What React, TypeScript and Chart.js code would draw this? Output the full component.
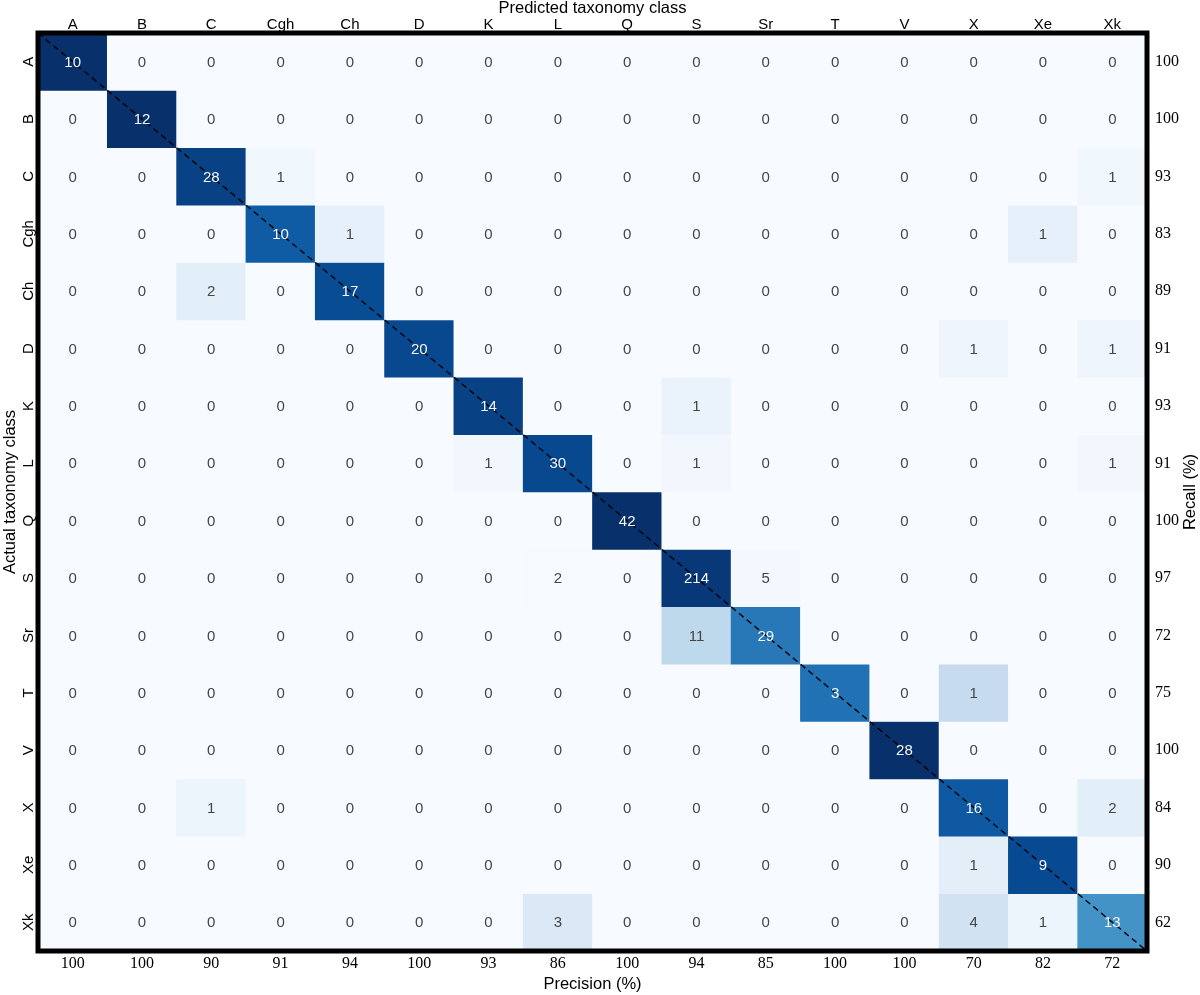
import React, { useEffect, useRef } from 'react';
import { Chart, registerables } from 'chart.js';

Chart.register(...registerables);

// Taxonomy classes (both predicted and actual)
const classes = ['A', 'B', 'C', 'Cgh', 'Ch', 'D', 'K', 'L', 'Q', 'S', 'Sr', 'T', 'V', 'X', 'Xe', 'Xk'];

// Confusion matrix rows (actual class), columns follow `classes` (predicted class)
const rowA   = [10, 0, 0, 0, 0, 0, 0, 0, 0, 0, 0, 0, 0, 0, 0, 0];
const rowB   = [0, 12, 0, 0, 0, 0, 0, 0, 0, 0, 0, 0, 0, 0, 0, 0];
const rowC   = [0, 0, 28, 1, 0, 0, 0, 0, 0, 0, 0, 0, 0, 0, 0, 1];
const rowCgh = [0, 0, 0, 10, 1, 0, 0, 0, 0, 0, 0, 0, 0, 0, 1, 0];
const rowCh  = [0, 0, 2, 0, 17, 0, 0, 0, 0, 0, 0, 0, 0, 0, 0, 0];
const rowD   = [0, 0, 0, 0, 0, 20, 0, 0, 0, 0, 0, 0, 0, 1, 0, 1];
const rowK   = [0, 0, 0, 0, 0, 0, 14, 0, 0, 1, 0, 0, 0, 0, 0, 0];
const rowL   = [0, 0, 0, 0, 0, 0, 1, 30, 0, 1, 0, 0, 0, 0, 0, 1];
const rowQ   = [0, 0, 0, 0, 0, 0, 0, 0, 42, 0, 0, 0, 0, 0, 0, 0];
const rowS   = [0, 0, 0, 0, 0, 0, 0, 2, 0, 214, 5, 0, 0, 0, 0, 0];
const rowSr  = [0, 0, 0, 0, 0, 0, 0, 0, 0, 11, 29, 0, 0, 0, 0, 0];
const rowT   = [0, 0, 0, 0, 0, 0, 0, 0, 0, 0, 0, 3, 0, 1, 0, 0];
const rowV   = [0, 0, 0, 0, 0, 0, 0, 0, 0, 0, 0, 0, 28, 0, 0, 0];
const rowX   = [0, 0, 1, 0, 0, 0, 0, 0, 0, 0, 0, 0, 0, 16, 0, 2];
const rowXe  = [0, 0, 0, 0, 0, 0, 0, 0, 0, 0, 0, 0, 0, 1, 9, 0];
const rowXk  = [0, 0, 0, 0, 0, 0, 0, 3, 0, 0, 0, 0, 0, 4, 1, 13];

const counts = [rowA, rowB, rowC, rowCgh, rowCh, rowD, rowK, rowL, rowQ, rowS, rowSr, rowT, rowV, rowX, rowXe, rowXk];

// Per-class metrics (%)
const precision = [100, 100, 90, 91, 94, 100, 93, 86, 100, 94, 85, 100, 100, 70, 82, 72];
const recall = [100, 100, 93, 83, 89, 91, 93, 91, 100, 97, 72, 75, 100, 84, 90, 62];

const BLUES = ['#f7fbff', '#deebf7', '#c6dbef', '#9ecae1', '#6baed6', '#4292c6', '#2171b5', '#08519c', '#08306b'];

function hexToRgb(h: string) {
  const n = parseInt(h.slice(1), 16);
  return [(n >> 16) & 255, (n >> 8) & 255, n & 255];
}

function blues(t: number) {
  const v = Math.max(0, Math.min(1, t)) * (BLUES.length - 1);
  const i = Math.min(BLUES.length - 2, Math.floor(v));
  const f = v - i;
  const a = hexToRgb(BLUES[i]);
  const b = hexToRgb(BLUES[i + 1]);
  const c = a.map((x, k) => Math.round(x + (b[k] - x) * f));
  return `rgb(${c[0]},${c[1]},${c[2]})`;
}

const SANS = '"Liberation Sans", Arial, sans-serif';
const SERIF = '"Liberation Serif", "Times New Roman", serif';

const overlayPlugin = {
  id: 'overlay',
  afterDatasetsDraw(chart: any) {
    const { ctx, chartArea: a, scales } = chart;
    const xs = scales.x;
    const ys = scales.y;
    ctx.save();

    // diagonal dashed line
    ctx.setLineDash([6, 4]);
    ctx.lineWidth = 1.4;
    ctx.strokeStyle = '#000';
    ctx.beginPath();
    ctx.moveTo(a.left, a.top);
    ctx.lineTo(a.right, a.bottom);
    ctx.stroke();
    ctx.setLineDash([]);

    // cell values
    ctx.font = `15px ${SANS}`;
    ctx.textAlign = 'center';
    ctx.textBaseline = 'middle';
    counts.forEach((row, r) => {
      const sum = row.reduce((s, v) => s + v, 0);
      row.forEach((v, c) => {
        const px = xs.getPixelForValue(c);
        const py = ys.getPixelForValue(r + 0.5);
        ctx.fillStyle = v / sum > 0.5 ? '#f4f7fb' : '#454545';
        ctx.fillText(String(v), px, py + 1);
      });
    });

    // frame
    ctx.lineWidth = 5;
    ctx.strokeStyle = '#000';
    ctx.strokeRect(a.left, a.top, a.right - a.left, a.bottom - a.top);

    // left tick labels (rotated)
    ctx.fillStyle = '#000';
    ctx.font = `15px ${SANS}`;
    classes.forEach((cls, r) => {
      const py = ys.getPixelForValue(r + 0.5);
      ctx.save();
      ctx.translate(29, py);
      ctx.rotate(-Math.PI / 2);
      ctx.fillText(cls, 0, 0);
      ctx.restore();
    });

    // titles
    ctx.font = `16.5px ${SANS}`;
    const cx = (a.left + a.right) / 2;
    const cy = (a.top + a.bottom) / 2;
    ctx.fillText('Predicted taxonomy class', cx, 8);
    ctx.fillText('Precision (%)', cx, 984);
    ctx.save();
    ctx.translate(10, cy);
    ctx.rotate(-Math.PI / 2);
    ctx.fillText('Actual taxonomy class', 0, 0);
    ctx.restore();
    ctx.save();
    ctx.translate(1190, cy);
    ctx.rotate(-Math.PI / 2);
    ctx.fillText('Recall (%)', 0, 0);
    ctx.restore();

    ctx.restore();
  },
};

export default function App() {
  const ref = useRef<HTMLCanvasElement | null>(null);

  useEffect(() => {
    document.body.style.margin = '0';
    document.body.style.overflow = 'hidden';
    const canvas = ref.current;
    if (!canvas) return;

    const centerTicks = (s: any) => {
      s.ticks = classes.map((_, i) => ({ value: i + 0.5 }));
    };

    const datasets = counts.map((row, r) => {
      const sum = row.reduce((s, v) => s + v, 0);
      return {
        label: classes[r],
        data: classes.map(() => [r, r + 1] as [number, number]),
        backgroundColor: row.map((v) => blues(v / sum)),
        borderWidth: 0,
        barPercentage: 1,
        categoryPercentage: 1,
        grouped: false,
        xAxisID: 'x',
        yAxisID: 'y',
      };
    });

    const chart = new Chart(canvas, {
      type: 'bar',
      data: { labels: classes, datasets: datasets as any },
      options: {
        responsive: false,
        animation: false,
        layout: { padding: 0 },
        plugins: { legend: { display: false }, tooltip: { enabled: false } },
        scales: {
          x: {
            type: 'category',
            position: 'top',
            offset: true,
            grid: { display: false, drawTicks: false },
            border: { display: false },
            ticks: { font: { family: SANS, size: 15 }, color: '#000', padding: -1, maxRotation: 0, autoSkip: false },
            afterFit: (s: any) => { s.height = 33; },
          },
          x2: {
            type: 'category',
            labels: precision.map(String),
            position: 'bottom',
            offset: true,
            grid: { display: false, drawTicks: false },
            border: { display: false },
            ticks: { font: { family: SERIF, size: 16 }, color: '#000', padding: 3, maxRotation: 0, autoSkip: false },
            afterFit: (s: any) => { s.height = 44; },
          },
          y: {
            type: 'linear',
            position: 'left',
            min: 0,
            max: 16,
            reverse: true,
            afterBuildTicks: centerTicks,
            grid: { display: false, drawTicks: false },
            border: { display: false },
            ticks: { display: false, autoSkip: false },
            afterFit: (s: any) => { s.width = 38; },
          },
          y2: {
            type: 'linear',
            position: 'right',
            min: 0,
            max: 16,
            reverse: true,
            afterBuildTicks: centerTicks,
            grid: { display: false, drawTicks: false },
            border: { display: false },
            ticks: {
              font: { family: SERIF, size: 16 },
              color: '#000',
              padding: 8,
              autoSkip: false,
              callback: (_v: any, i: number) => String(recall[i]),
            },
            afterFit: (s: any) => { s.width = 53; },
          },
        },
      } as any,
      plugins: [overlayPlugin],
    });

    return () => chart.destroy();
  }, []);

  return (
    <div style={{ width: 1200, height: 995 }}>
      <canvas ref={ref} width={1200} height={995} />
    </div>
  );
}
